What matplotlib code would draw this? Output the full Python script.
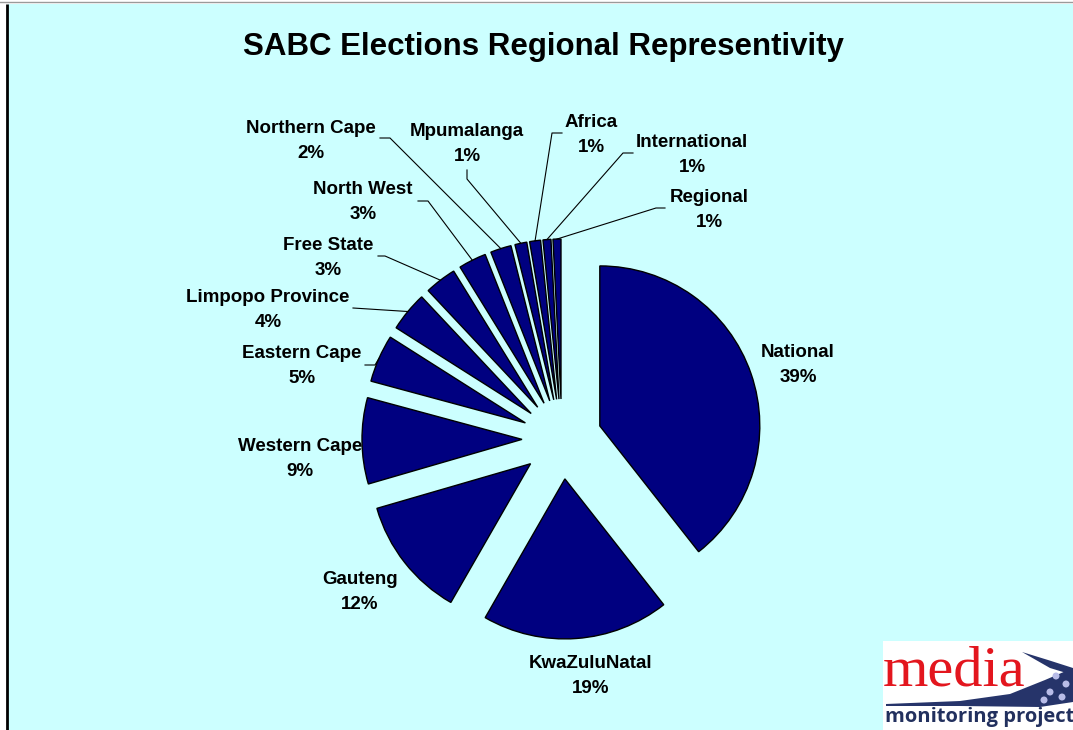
import matplotlib
matplotlib.use("Agg")
import matplotlib.pyplot as plt
from matplotlib.patches import Rectangle, Polygon, Circle
import numpy as np

# ---------------- data ----------------
regions = ["National", "KwaZuluNatal", "Gauteng", "Western Cape", "Eastern Cape",
           "Limpopo Province", "Free State", "North West", "Northern Cape",
           "Mpumalanga", "Africa", "International", "Regional"]
shares = [39.4, 18.9, 12.2, 8.7, 4.8, 4.0, 3.2, 2.8, 2.1, 1.2, 1.1, 0.8, 0.8]
title = "SABC Elections Regional Representivity"

# ---------------- layout (pixels) ----------------
W, H = 1073, 730
def Y(py):
    return H - py

CX, CY, R, EXPL = 562, 439, 160, 40
LABEL_DY = 2
label_pos = {
    "National": (798, 363), "KwaZuluNatal": (591, 674), "Gauteng": (360, 590),
    "Western Cape": (300, 457), "Eastern Cape": (302, 364),
    "Limpopo Province": (268, 308), "Free State": (328, 256),
    "North West": (363, 200), "Northern Cape": (311, 139),
    "Mpumalanga": (467, 142), "Africa": (591, 133),
    "International": (692, 153), "Regional": (709, 208),
}
leader_start = {
    "Limpopo Province": [(353, 308)],
    "Eastern Cape": [(365, 365), (375, 365)],
    "Free State": [(378, 256), (385, 256)],
    "North West": [(418, 201), (428, 201)],
    "Northern Cape": [(380, 138), (390, 138)],
    "Mpumalanga": [(467, 170), (467, 179)],
    "Africa": [(562, 133), (552, 133)],
    "International": [(633, 153), (623, 153)],
    "Regional": [(665, 208), (656, 208)],
}

navy = "#000080"
cyan = "#CCFFFF"

fig = plt.figure(figsize=(W / 100, H / 100), dpi=100)
fig.patch.set_facecolor("white")
ax = fig.add_axes([0, 0, 1, 1])

wedges, _ = ax.pie(shares, startangle=90, counterclock=False,
                   colors=[navy] * len(shares), explode=[EXPL] * len(shares),
                   radius=R, center=(CX, Y(CY)),
                   wedgeprops=dict(edgecolor="black", linewidth=1.0))
for w in wedges:
    w.set_zorder(3)

ax.set_xlim(0, W)
ax.set_ylim(0, H)
ax.set_aspect("auto")
ax.axis("off")

# background panel and frame lines
ax.add_patch(Rectangle((8, 0), W - 8, Y(4), facecolor=cyan, edgecolor="none", zorder=0))
ax.plot([7, 7], [0, Y(4)], color="black", lw=2, zorder=1, solid_capstyle="butt")
ax.plot([0, W], [Y(2), Y(2)], color="#9a9a9a", lw=1, zorder=1)

ax.text(543, Y(47), title, ha="center", va="center", fontsize=22.5,
        fontweight="bold", family="Liberation Sans", zorder=5)

# labels and leader lines
total = sum(shares)
cum = 0.0
for name, v in zip(regions, shares):
    mid = 90 - (cum + v / 2) / total * 360
    cum += v
    t = np.deg2rad(mid)
    lx, ly = label_pos[name]
    ax.text(lx, Y(ly + LABEL_DY), f"{name}\n{v:.0f}%", ha="center", va="center",
            multialignment="center", fontsize=13.5, fontweight="bold",
            family="Liberation Sans", linespacing=1.55, zorder=5)
    if name in leader_start:
        ex = CX + (EXPL + R) * np.cos(t)
        ey = CY - (EXPL + R) * np.sin(t)
        pts = leader_start[name] + [(ex, ey)]
        ax.plot([p[0] for p in pts], [Y(p[1]) for p in pts], color="black",
                lw=0.8, zorder=4)

# logo
ax.add_patch(Rectangle((883, 0), W - 883, Y(641), facecolor="white",
                       edgecolor="none", zorder=6))
ax.text(883, Y(686), "media", ha="left", va="baseline", fontsize=42,
        family="Liberation Serif", color="#E3161E", zorder=7)
ax.add_patch(Polygon([(886, Y(704)), (960, Y(701)), (1010, Y(694)), (1045, Y(680)),
                      (1073, Y(668)), (1073, Y(702)), (1040, Y(707)), (960, Y(706)),
                      (886, Y(706))], closed=True, facecolor="#26346A",
                     edgecolor="none", zorder=7))
ax.add_patch(Polygon([(1022, Y(652)), (1048, Y(660)), (1073, Y(668)), (1073, Y(675)),
                      (1050, Y(668))], closed=True, facecolor="#26346A",
                     edgecolor="none", zorder=7))
for (dx, dy) in [(1056, 676), (1066, 684), (1050, 692), (1062, 697), (1044, 700)]:
    ax.add_patch(Circle((dx, Y(dy)), 3.5, facecolor="#B8BCE8", edgecolor="none", zorder=8))
ax.text(885, Y(722), "monitoring project", ha="left", va="baseline", fontsize=14.5,
        family="Open Sans", fontweight="bold", color="#22305E", zorder=7, clip_on=True)

fig.savefig("out.png", dpi=100, facecolor=fig.get_facecolor())
